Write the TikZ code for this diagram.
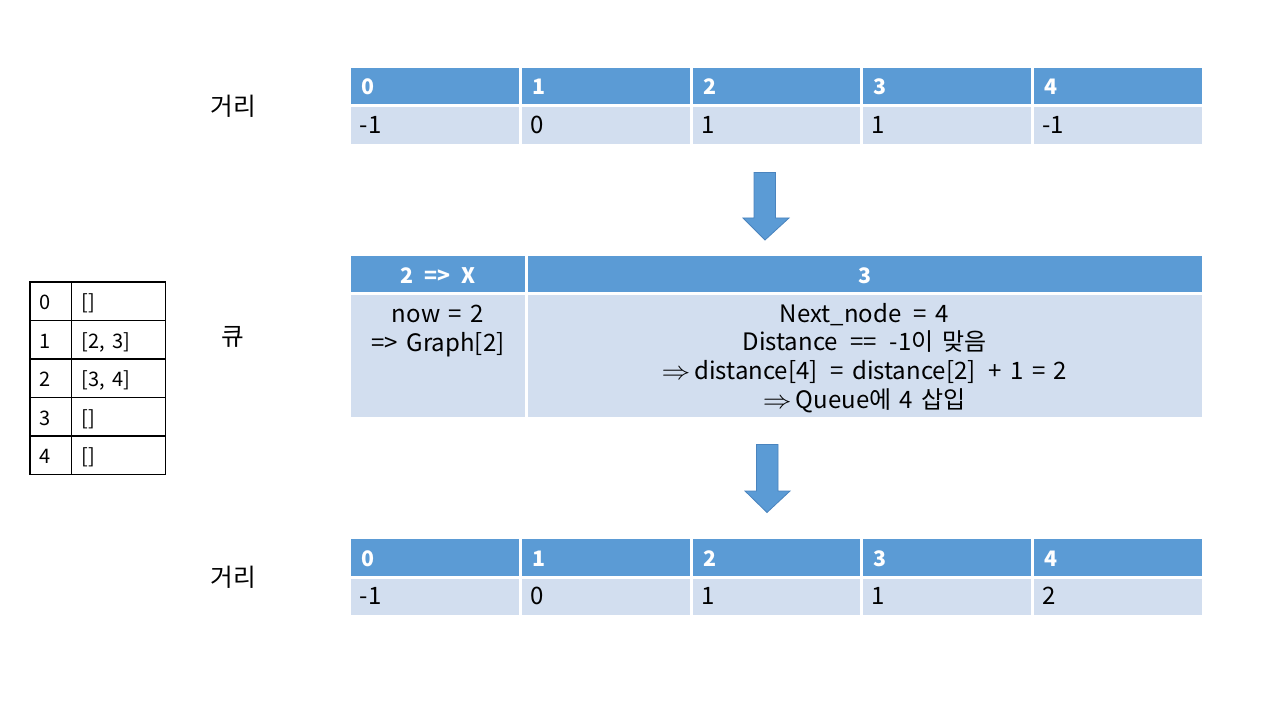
\documentclass[tikz,border=0pt]{standalone}
\usepackage{fontspec}
\setmainfont{Noto Sans CJK KR}[WordSpace=1.6]
\definecolor{hdr}{HTML}{5B9BD5}
\definecolor{bdy}{HTML}{D2DEEF}
\definecolor{arrb}{HTML}{4A84BE}
\newcommand{\darr}{\scalebox{1.25}[1.1]{$\Rightarrow$}}
\begin{document}
\begin{tikzpicture}[x=0.75pt,y=-0.75pt,
  hcell/.style={fill=hdr,draw=white,line width=2.25pt},
  bcell/.style={fill=bdy,draw=white,line width=2.25pt},
  htxt/.style={inner sep=0pt,text=white,font=\fontsize{16}{19}\selectfont\bfseries},
  btxt/.style={inner sep=0pt,text=black,font=\fontsize{18}{21.5}\selectfont},
  ltxt/.style={inner sep=0pt,text=black,font=\fontsize{15}{17}\selectfont,anchor=base west},
  lbl/.style={inner sep=0pt,text=black,font=\fontsize{18.5}{21.5}\selectfont},
  bigarrow/.style={fill=hdr,draw=arrb,line width=0.6pt,line join=miter}
]
\useasboundingbox[fill=white] (0,0) rectangle (1280,720);

% ---------- top distance table ----------
\foreach \xa/\xb/\h/\v [count=\i from 0] in {349.5/520.5/0/-1,520.5/691/1/0,691/861.5/2/1,861.5/1032/3/1,1032/1203.5/4/-1}{
  \path[hcell] (\xa,67) rectangle (\xb,106);
  \path[bcell] (\xa,106) rectangle (\xb,146);
  \node[htxt,anchor=base west] (th\i) at (\xa+12,95) {\h};
  \node[btxt,anchor=base west] (tb\i) at (\xa+10,133.5) {\v};
}
\node[lbl] (dist1) at (233,106) {거리};

% ---------- arrow 1 ----------
\path[bigarrow] (754,172.5) -- (775.5,172.5) -- (775.5,218) -- (789,218) -- (765,240) -- (743,218) -- (754,218) -- cycle;

% ---------- queue table ----------
\path[hcell] (349.5,254) rectangle (526,293);
\path[hcell] (526,254) rectangle (1203.5,293);
\path[bcell] (349.5,293) rectangle (526,418);
\path[bcell] (526,293) rectangle (1203.5,418);
\node[htxt,anchor=base] (qh1) at (438,283) {2 \,=> \,X};
\node[htxt,anchor=base] (qh2) at (864.5,283) {3};
\node[btxt,anchor=base] (ql1) at (438,322.5) {now = 2};
\node[btxt,anchor=base] (ql2) at (438,351) {=> Graph[2]};
\node[btxt,anchor=base] (qr1) at (864.5,322) {Next\_node \,= 4};
\node[btxt,anchor=base] (qr2) at (864.5,350.7) {Distance \,== \,-1이 맞음};
\node[btxt,anchor=base] (qr3) at (864.5,379.3) {\darr\,distance[4] \,= distance[2] \,+ 1 = 2};
\node[btxt,anchor=base] (qr4) at (864.5,408) {\darr\,Queue에 4 삽입};
\node[lbl] (queue) at (233,337) {큐};

% ---------- arrow 2 ----------
\path[bigarrow] (756.5,444.5) -- (778,444.5) -- (778,491) -- (790,491) -- (767,512.5) -- (745,491) -- (756.5,491) -- cycle;

% ---------- bottom distance table ----------
\foreach \xa/\xb/\h/\v [count=\i from 0] in {349.5/520.5/0/-1,520.5/691/1/0,691/861.5/2/1,861.5/1032/3/1,1032/1203.5/4/2}{
  \path[hcell] (\xa,537) rectangle (\xb,577);
  \path[bcell] (\xa,577) rectangle (\xb,616.5);
  \node[htxt,anchor=base west] (bh\i) at (\xa+12,566) {\h};
  \node[btxt,anchor=base west] (bb\i) at (\xa+10,604.5) {\v};
}
\node[lbl] (dist2) at (233,577) {거리};

% ---------- graph adjacency table ----------
\draw[line width=0.8pt] (30,282) rectangle (165.5,474.5);
\draw[line width=0.8pt] (71.5,282) -- (71.5,474.5);
\foreach \yy in {320.5,359,397.5,436}{
  \draw[line width=0.8pt] (30,\yy) -- (165.5,\yy);
}
\foreach \k/\adj [count=\j from 0] in {0/{[]},1/{[2, 3]},2/{[3, 4]},3/{[]},4/{[]}}{
  \node[ltxt] (gk\j) at (39.5,309.5+38.5*\j) {\k};
  \node[ltxt] (gv\j) at (81.5,309.5+38.5*\j) {\adj};
}
\end{tikzpicture}
\end{document}
